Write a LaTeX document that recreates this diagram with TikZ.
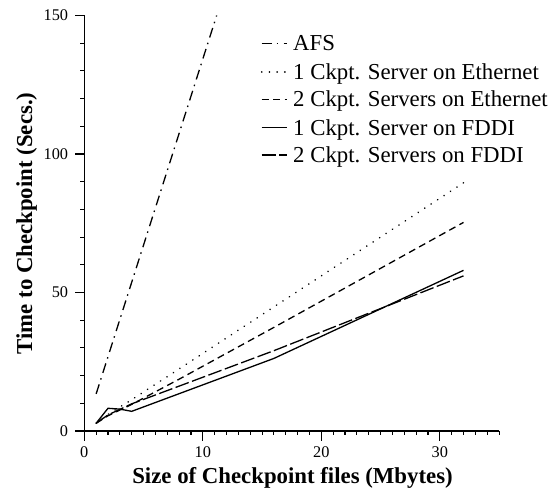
\documentclass[tikz,border=0pt]{standalone}
\usepackage{fontspec}
\setmainfont{Liberation Serif}
\begin{document}
\begin{tikzpicture}[x=1bp,y=1bp,
  afsline/.style={line width=1.3bp, dash pattern=on 10bp off 5bp on 1.5bp off 5.5bp},
  dotline/.style={line width=1.7bp, line cap=round, dash pattern=on 0.1bp off 7.6bp},
  dashline/.style={line width=1.3bp, dash pattern=on 7bp off 4.5bp},
  solidline/.style={line width=1.3bp},
  ldashline/.style={line width=1.3bp, dash pattern=on 14bp off 3.5bp},
  axisline/.style={line width=1.4bp},
  ticklab/.style={font=\fontsize{16.3bp}{18bp}\selectfont, inner sep=0pt},
  axlab/.style={font=\fontsize{22.8bp}{26bp}\selectfont\bfseries, inner sep=0pt},
  legtext/.style={font=\fontsize{22.8bp}{26bp}\selectfont, inner sep=0pt, anchor=base west}]
\useasboundingbox (0,0) rectangle (549,489);
\begin{scope}[shift={(84.3,58)}, x=11.85bp, y=2.77bp]
  % axes
  \coordinate (o) at (0,0);
  \coordinate (xend) at (35,0);
  \coordinate (yend) at (0,150);
  \draw[axisline] (xend) -- (o) -- (yend);
  % x ticks
  \foreach \i in {0,...,35} {\draw[line width=1.1bp] (\i,0) -- ++(0,-4bp);}
  \foreach \i in {0,10,20,30} {\draw[line width=1.1bp] (\i,0) -- ++(0,-10bp);
     \node[ticklab, anchor=north] (xl\i) at ([yshift=-15bp]\i,0) {\i};}
  % y ticks
  \foreach \j in {0,10,...,150} {\draw[line width=1.1bp] (0,\j) -- ++(-4bp,0);}
  \foreach \j in {0,50,100,150} {\draw[line width=1.1bp] (0,\j) -- ++(-9bp,0);
     \node[ticklab, anchor=east] (yl\j) at ([xshift=-16bp]0,\j) {\j};}
  % data
  \draw[afsline] (1,13.4) -- (11.17,150);
  \draw[dotline] (1,2.8) -- (2,6) -- (4,11.3) -- (8,22.4) -- (16,44.8) -- (32,89.6);
  \draw[dashline] (1,2.8) -- (2,5.5) -- (4,9.6) -- (8,18.7) -- (16,37.4) -- (32,75.3);
  \draw[solidline] (1,2.8) -- (2,8.2) -- (3,7.9) -- (4,7.1) -- (16,26.2) -- (32,58);
  \draw[ldashline] (1,2.8) -- (2,5.8) -- (4,9.8) -- (8,16.2) -- (16,29) -- (32,56);
\end{scope}
% axis labels
\node[axlab, anchor=base] (xlabel) at (292.5,5) {Size of Checkpoint files (Mbytes)};
\node[axlab, anchor=base, rotate=90] (ylabel) at (32,265.5) {Time to Checkpoint (Secs.)};
% legend
\foreach \k/\sty/\txt [count=\n] in {445.7/afsline/AFS,
   417.3/dotline/1 Ckpt. Server on Ethernet,
   389.7/dashline/2 Ckpt. Servers on Ethernet,
   361.3/solidline/1 Ckpt. Server on FDDI,
   334/ldashline/2 Ckpt. Servers on FDDI} {
  \coordinate (la\n) at (261.7,\k);
  \coordinate (lb\n) at (286.7,\k);
  \draw[\sty] (la\n) -- (lb\n);
  \node[legtext] (lt\n) at (293,\k-7.4) {\txt};
}
\end{tikzpicture}
\end{document}
